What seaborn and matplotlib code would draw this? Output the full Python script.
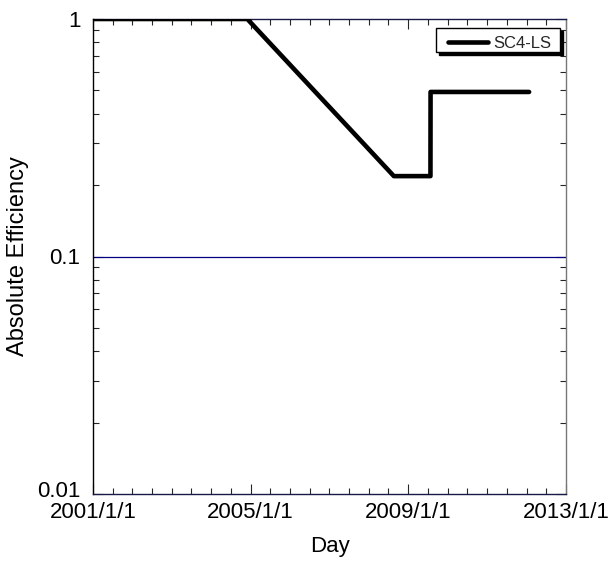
import matplotlib
matplotlib.use("Agg")
import matplotlib.pyplot as plt
import matplotlib.dates as mdates
import matplotlib.transforms as mtransforms
from matplotlib.path import Path
from matplotlib.ticker import LogLocator, NullFormatter, FixedLocator, FixedFormatter
import seaborn as sns
import pandas as pd
import numpy as np

dates = ["2001-01-01", "2004-12-01", "2008-08-20", "2009-07-25", "2009-07-26", "2012-01-25"]
efficiency = [1.0, 1.0, 0.218, 0.218, 0.493, 0.493]
series_name = "SC4-LS"
xtick_labels = ["2001/1/1", "2005/1/1", "2009/1/1", "2013/1/1"]
xtick_dates = ["2001-01-01", "2005-01-01", "2009-01-01", "2013-01-01"]
ytick_values = [0.01, 0.1, 1]
ytick_labels = ["0.01", "0.1", "1"]

df = pd.DataFrame({"Day": pd.to_datetime(dates), "eff": efficiency, "series": series_name})

sns.set_style("ticks")
plt.rcParams["font.family"] = ["Liberation Sans", "DejaVu Sans"]

fig = plt.figure(figsize=(6.16, 5.61), dpi=100)
ax = fig.add_axes([93/616, 1-494/561, (566-93)/616, (494-19)/561])

ax.axhline(0.1, color="#000080", lw=0.9, zorder=1)
sns.lineplot(data=df, x="Day", y="eff", hue="series", palette=["black"],
             linewidth=3.3, ax=ax, estimator=None, sort=False, zorder=3)

ax.set_yscale("log")
ax.set_ylim(0.01, 1)
ax.set_xlim(pd.Timestamp("2001-01-01"), pd.Timestamp("2013-01-01"))

ax.yaxis.set_major_locator(FixedLocator(ytick_values))
ax.yaxis.set_major_formatter(FixedFormatter(ytick_labels))
ax.yaxis.set_minor_locator(LogLocator(base=10, subs=np.arange(2, 10)))
ax.yaxis.set_minor_formatter(NullFormatter())

xt = mdates.date2num(pd.to_datetime(xtick_dates))
ax.xaxis.set_major_locator(FixedLocator(xt))
ax.xaxis.set_major_formatter(FixedFormatter(xtick_labels))
ax.xaxis.set_minor_locator(mdates.MonthLocator(bymonth=[1, 7]))

ax.tick_params(which="both", direction="in", top=True, right=True, labelsize=16,
               labelcolor="black")
ax.tick_params(axis="x", which="major", pad=6)
ax.tick_params(axis="y", which="major", pad=9)
ax.tick_params(which="major", length=7, width=0.8)
ax.tick_params(which="minor", length=4, width=0.8)

for s in ["top", "bottom"]:
    ax.spines[s].set_color("#1a1a4a")
ax.spines["left"].set_color("black")
ax.spines["right"].set_color("#777777")
for s in ax.spines.values():
    s.set_linewidth(1.0)

ax.set_xlabel("Day", fontsize=16, labelpad=9, color="black")
ax.set_ylabel("Absolute Efficiency", fontsize=17, labelpad=6, color="black")

fig.canvas.draw()
for lab in ax.get_yticklabels():
    if lab.get_text() == "0.01":
        lab.set_transform(lab.get_transform() + mtransforms.ScaledTranslation(0, 5/100, fig.dpi_scale_trans))


def legend_box(x0, y0, width, height, mutation_size):
    # asymmetric padding in pixels: left, right, top, bottom
    pl, pr, pt, pb = 12.0, 9.0, 7.5, 1.5
    xa, xb = x0 - pl, x0 + width + pr
    ya, yb = y0 - pb, y0 + height + pt
    return Path([(xa, ya), (xb, ya), (xb, yb), (xa, yb), (xa, ya)],
                [Path.MOVETO, Path.LINETO, Path.LINETO, Path.LINETO, Path.CLOSEPOLY])


leg = ax.legend(loc="upper right", bbox_to_anchor=((551 - 93) / 473, 1 - (35.5 - 19) / 475),
                fontsize=12, frameon=True, fancybox=False,
                shadow={"color": "black", "alpha": 1.0},
                handlelength=2.4, borderpad=0.0, handletextpad=0.3, borderaxespad=0.0)
leg.get_frame().set_edgecolor("black")
leg.get_frame().set_linewidth(1.0)
leg.get_frame().set_boxstyle(legend_box)
leg.set_title(None)

fig.savefig("out.png", dpi=100)
